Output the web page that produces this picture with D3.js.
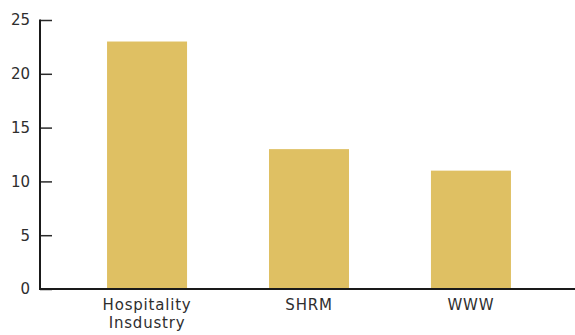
<!DOCTYPE html>
<html><head><meta charset="utf-8">
<script src="https://cdn.jsdelivr.net/npm/d3@7"></script>
<style>
html,body{margin:0;padding:0;background:#fff;}
svg{display:block;}
text{font-family:"DejaVu Sans",sans-serif;fill:#2e2e2e;}
</style></head>
<body><svg id="c" width="575" height="335"></svg>
<script>
const categories = ["Hospitality\nInsdustry", "SHRM", "WWW"];
const values = [23, 13, 11];
const yTicks = [0, 5, 10, 15, 20, 25];

const svg = d3.select("#c");
const x0 = 40, yBottom = 289, yTop = 20;
const x = d3.scaleBand().domain(categories).range([x0, 578]).paddingInner(0.506).paddingOuter(0.414);
const y = d3.scaleLinear().domain([0, 25]).range([yBottom, yTop]);

svg.selectAll("rect.bar").data(values).join("rect")
  .attr("class","bar")
  .attr("x",(d,i)=>x(categories[i]))
  .attr("width",x.bandwidth())
  .attr("y",d=>y(d))
  .attr("height",d=>y(0)-y(d))
  .attr("fill","#DFC063");

// y axis
const yAxis = svg.append("g").attr("transform",`translate(${x0},0)`)
  .call(d3.axisRight(y).tickValues(yTicks).tickSize(12).tickFormat(""));
yAxis.select(".domain").remove();
yAxis.selectAll(".tick line").attr("stroke","#2a2a2a").attr("stroke-width",1.5);
svg.append("line").attr("x1",x0).attr("x2",x0).attr("y1",y(25)-0.5).attr("y2",yBottom+1)
  .attr("stroke","#1a1a1a").attr("stroke-width",2);
svg.selectAll("text.yl").data(yTicks).join("text").attr("class","yl")
  .attr("x",30).attr("y",d=>y(d)).attr("dy","0.36em").attr("text-anchor","end")
  .attr("font-size",15).text(d=>d);

// x axis
svg.append("line").attr("x1",x0-1).attr("x2",575).attr("y1",yBottom).attr("y2",yBottom)
  .attr("stroke","#1a1a1a").attr("stroke-width",2);
const xl = svg.selectAll("text.xl").data(categories).join("text").attr("class","xl")
  .attr("x",d=>x(d)+x.bandwidth()/2).attr("y",310).attr("text-anchor","middle")
  .attr("font-size",15).attr("letter-spacing","0.8px");
xl.each(function(d){
  const t=d3.select(this);
  d.split("\n").forEach((s,i)=>t.append("tspan").attr("x",t.attr("x")).attr("dy",i?18:0).text(s));
});
</script></body></html>
